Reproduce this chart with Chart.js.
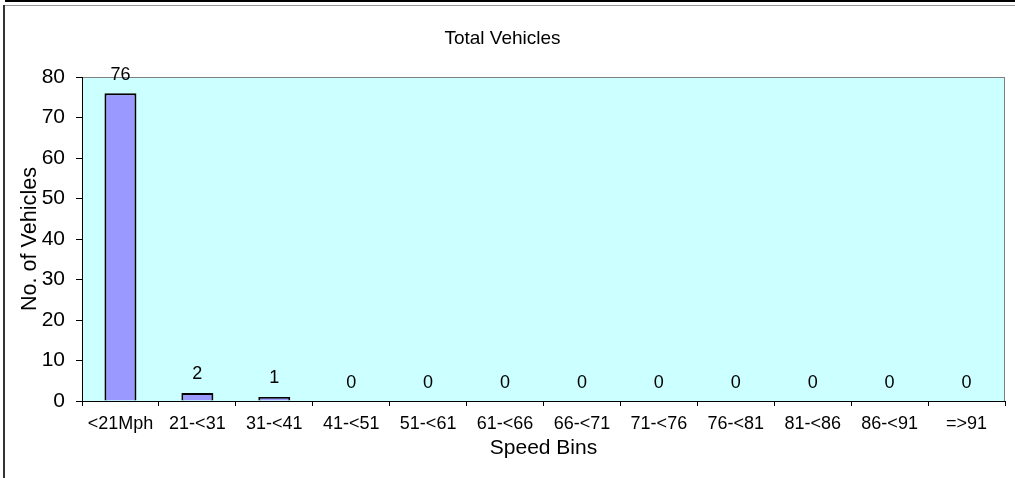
<!DOCTYPE html>
<html><head><meta charset="utf-8">
<script src="https://cdn.jsdelivr.net/npm/chart.js@4/dist/chart.umd.min.js"></script>
<style>
html,body{margin:0;padding:0;background:#fff;}
#wrap{position:relative;width:1015px;height:478px;overflow:hidden;background:#fff;}
#c{position:absolute;left:0;top:0;}
.ln{position:absolute;}
</style></head><body>
<div id="wrap">
<canvas id="c" width="1015" height="478"></canvas>
<div class="ln" style="left:5px;top:0;width:1010px;height:2px;background:#000"></div>
<div class="ln" style="left:3px;top:5px;width:1012px;height:1px;background:#999"></div>
<div class="ln" style="left:3px;top:5px;width:2px;height:473px;background:#333"></div>
</div>
<script>
const categories = ['<21Mph','21-<31','31-<41','41-<51','51-<61','61-<66','66-<71','71-<76','76-<81','81-<86','86-<91','=>91'];
const vehicleCounts = [76,2,1,0,0,0,0,0,0,0,0,0];
const yTicks = [0,10,20,30,40,50,60,70,80];

Chart.defaults.font.family = '"Liberation Sans", Arial, sans-serif';
Chart.defaults.color = '#000';

const plotArea = {
  id: 'plotArea',
  beforeDraw(chart) {
    const {ctx, chartArea: a} = chart;
    ctx.save();
    ctx.fillStyle = '#ccffff';
    ctx.fillRect(a.left, a.top, a.right - a.left, a.bottom - a.top);
    ctx.strokeStyle = '#808080';
    ctx.lineWidth = 1;
    ctx.strokeRect(a.left + 0.5, a.top + 0.5, a.right - a.left - 1, a.bottom - a.top);
    ctx.restore();
  }
};

const valueLabels = {
  id: 'valueLabels',
  afterDatasetsDraw(chart) {
    const {ctx} = chart;
    const meta = chart.getDatasetMeta(0);
    ctx.save();
    ctx.font = '18px "Liberation Sans", Arial, sans-serif';
    ctx.fillStyle = '#000';
    ctx.textAlign = 'center';
    ctx.textBaseline = 'alphabetic';
    meta.data.forEach((bar, i) => {
      ctx.fillText(String(vehicleCounts[i]), bar.x, bar.y - 13.5);
    });
    ctx.restore();
  }
};

new Chart(document.getElementById('c'), {
  type: 'bar',
  data: {
    labels: categories,
    datasets: [{
      data: vehicleCounts,
      backgroundColor: '#9999ff',
      borderColor: '#000',
      borderWidth: 2,
      borderSkipped: 'start',
      categoryPercentage: 1,
      barPercentage: 0.416
    }]
  },
  options: {
    responsive: false,
    animation: false,
    devicePixelRatio: 1,
    layout: {padding: {left: 0, right: 10, top: 0, bottom: 0}},
    plugins: {
      legend: {display: false},
      tooltip: {enabled: false},
      title: {
        display: true,
        text: 'Total Vehicles',
        color: '#000',
        font: {size: 19, weight: 'normal'},
        padding: {top: 27.6, bottom: 26.6}
      }
    },
    scales: {
      x: {
        grid: {display: true, drawOnChartArea: false, drawTicks: true, tickLength: 5, color: '#000', offset: true},
        border: {display: true, color: '#000', width: 1},
        ticks: {font: {size: 18}, color: '#000', padding: 7, maxRotation: 0, autoSkip: false},
        title: {display: true, text: 'Speed Bins', color: '#000', font: {size: 21}, padding: {top: 0, bottom: 17}},
        afterFit(s) { s.height = 77; }
      },
      y: {
        min: 0, max: 80,
        afterBuildTicks(s) { s.ticks = yTicks.map(v => ({value: v})); },
        grid: {display: true, drawOnChartArea: false, drawTicks: true, tickLength: 6, color: '#000'},
        border: {display: true, color: '#000', width: 1},
        ticks: {font: {size: 21}, color: '#000', padding: 11},
        title: {display: true, text: 'No. of Vehicles', color: '#000', font: {size: 21.6}, padding: {top: 17, bottom: 0}},
        afterFit(s) { s.width = 82; }
      }
    }
  },
  plugins: [plotArea, valueLabels]
});
</script>
</body></html>
